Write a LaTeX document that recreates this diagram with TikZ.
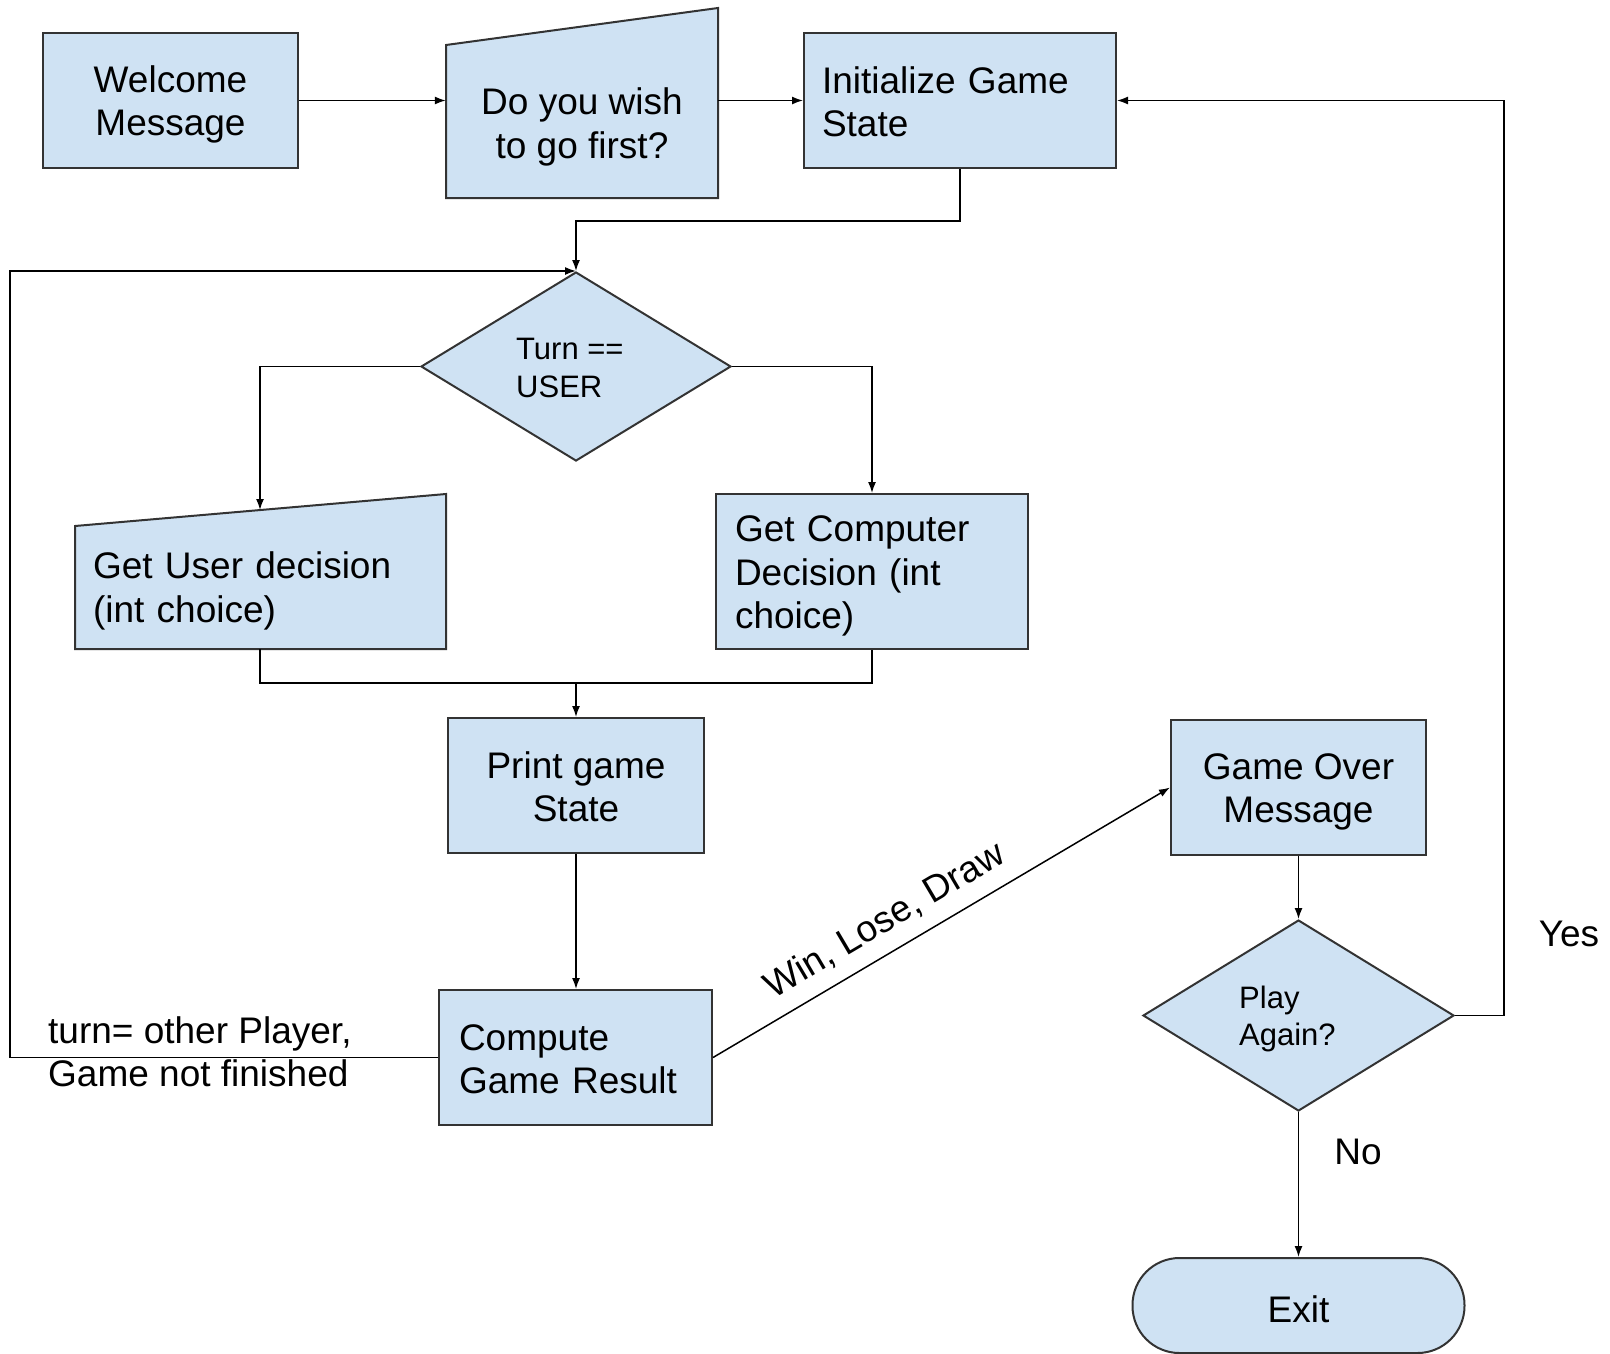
\documentclass[tikz,border=0pt]{standalone}
\usepackage{fontspec}
\setmainfont{Liberation Sans}
\usetikzlibrary{shapes.geometric,arrows.meta}
\definecolor{boxc}{HTML}{CFE2F3}
\definecolor{bordc}{HTML}{333333}
\newcommand\fsBig{\fontsize{37}{43.5}\selectfont}
\newcommand\fsSmall{\fontsize{31}{37.5}\selectfont}
\newcommand\fb{\rule{0pt}{35pt}}
\newcommand\fe{\rule[-6pt]{0pt}{6pt}}
\begin{document}
\begin{tikzpicture}[x=1pt,y=-1pt,
 box/.style={draw=bordc, fill=boxc, line width=2pt, font=\fsBig, inner sep=0pt},
 cbox/.style={box, align=center},
 lbox/.style={box, align=left, text width=#1},
 dia/.style={diamond, draw=bordc, fill=boxc, line width=2pt, inner sep=0pt},
 shapebox/.style={draw=bordc, fill=boxc, line width=2pt, line join=miter},
 arr/.style={line width=1.5pt, -{Latex[length=11pt,width=8pt]}},
 ln/.style={line width=1.5pt},
 lbl/.style={font=\fsBig, inner sep=0pt},
]
\useasboundingbox[fill=white] (0,0) rectangle (1610,1353);

% nodes
\node[cbox, minimum width=255, minimum height=135] (welcome) at (170.5,100.5) {\fb Welcome\\Message\fe};

\filldraw[shapebox] (446,198) -- (718,198) -- (718,8) -- (446,45) -- cycle;
\node[font=\fsBig, align=center, minimum width=272, inner sep=0pt] (ask) at (582,123) {\fb Do you wish\\to go first?\fe};

\node[lbox=276, minimum height=135, inner xsep=18] (init) at (960,100.5) {\fb Initialize Game\\State\fe};

\node[dia, minimum width=310, minimum height=189] (turn) at (576,366.5) {};
\node[font=\fsSmall, align=left, anchor=west, inner sep=0pt] (turnt) at (516,368) {Turn ==\\USER};

\filldraw[shapebox] (75,649) -- (446,649) -- (446,494) -- (75,526) -- cycle;
\node[font=\fsBig, align=left, text width=335, inner xsep=18, inner ysep=0, minimum width=371] (user) at (260.5,587) {\fb Get User decision\\(int choice)\fe};
\coordinate (utop) at (260,510);
\coordinate (ubot) at (260,649);

\node[lbox=274, minimum height=155, inner xsep=19] (comp) at (872,571.5) {\fb Get Computer\\Decision (int\\choice)\fe};

\node[cbox, minimum width=256, minimum height=135] (print) at (576,785.5) {\fb Print game\\State\fe};

\node[lbox=233, minimum height=135, inner xsep=20] (res) at (575.5,1057.5) {\fb Compute\\Game Result\fe};

\node[cbox, minimum width=255, minimum height=135] (go) at (1298.5,787.5) {\fb Game Over\\Message\fe};

\node[dia, minimum width=311, minimum height=191] (play) at (1298.5,1015.5) {};
\node[font=\fsSmall, align=left, anchor=west, inner sep=0pt] (playt) at (1239,1019) {Play\\Again?};

\node[box, rounded corners=47, minimum width=332, minimum height=95] (exit) at (1298.5,1305.5) {\fb Exit};

% connectors
\draw[arr] (welcome.east) -- (welcome.east -| ask.west);
\draw[arr] (init.west -| ask.east) -- (init.west);
\coordinate (j1) at (576,221);
\draw[arr] (init.south) |- (j1) -- (turn.north);
\draw[arr] (turn.west) -| (utop);
\draw[arr] (turn.east) -| (comp.north);
\coordinate (merge) at (576,683);
\draw[ln] (ubot) |- (merge) -| (comp.south);
\draw[arr] (merge) -- (print.north);
\draw[arr] (print.south) -- (print.south |- res.north);
\coordinate (lft) at (10,0);
\draw[arr] (res.west) -- (res.west -| lft) |- (turn.north);
\node[lbl, align=left, anchor=west] (other) at (48,1052) {turn= other Player,\\Game not finished};
\draw[arr] (res.east) -- node[lbl, pos=0.41, above=14pt, sloped] (wld) {Win, Lose, Draw} (go.west);
\draw[arr] (go.south) -- (play.north);
\coordinate (rgt) at (1504,0);
\draw[arr] (play.east) -- (play.east -| rgt) |- (init.east);
\node[lbl] (yes) at (1569,934) {Yes};
\draw[arr] (play.south) -- (exit.north);
\node[lbl] (no) at (1358,1152) {No};
\end{tikzpicture}
\end{document}
